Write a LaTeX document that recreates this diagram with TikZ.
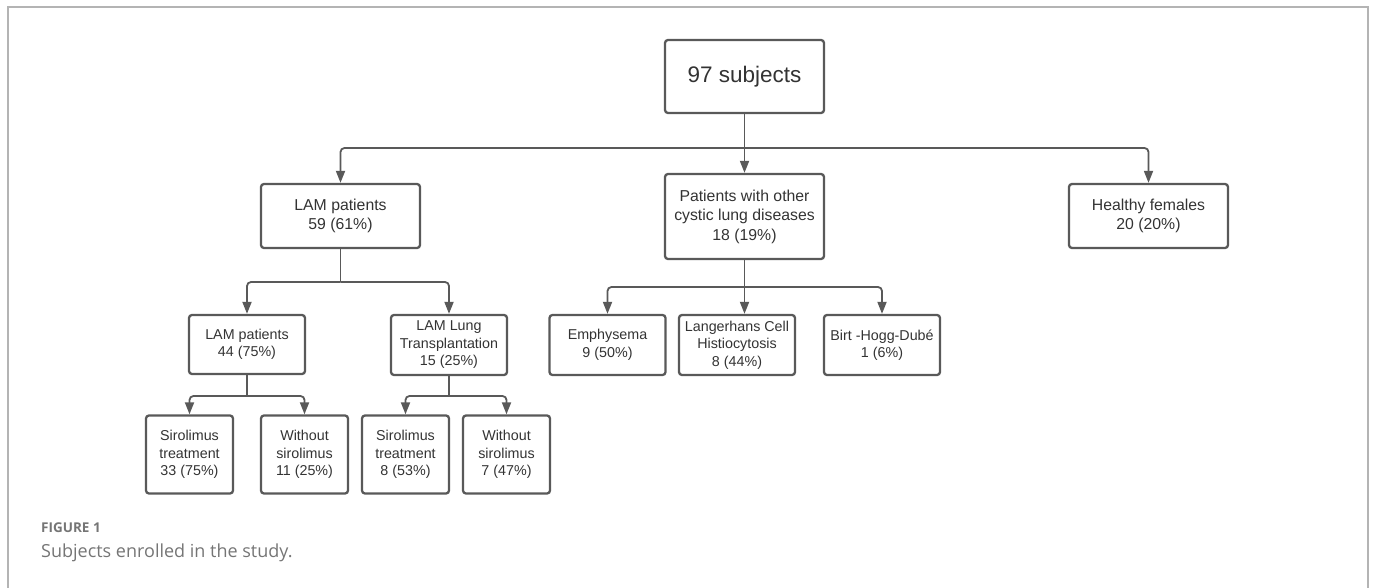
\documentclass[tikz,border=0pt]{standalone}
\usepackage{fontspec}
\setmainfont{Liberation Sans}
\newfontfamily\capfont{Open Sans}
\usetikzlibrary{arrows.meta}
\definecolor{ln}{HTML}{595959}
\definecolor{tx}{HTML}{333333}
\definecolor{fr}{HTML}{B4B4B4}
\definecolor{capc}{HTML}{757575}
\begin{document}
\begin{tikzpicture}[x=1pt,y=-1pt,
  box/.style={draw=ln, line width=2.3pt, rounded corners=3pt, inner sep=0pt, align=center, text=tx},
  topbox/.style={box, minimum width=159pt, minimum height=73pt, font=\fontsize{22.5}{27}\selectfont},
  lvone/.style={box, minimum width=159pt, font=\fontsize{15.8}{19.5}\selectfont},
  lvtwo/.style={box, minimum width=116pt, minimum height=60pt, font=\fontsize{14.3}{17.5}\selectfont},
  lvthree/.style={box, minimum width=87pt, minimum height=78pt, font=\fontsize{14.3}{17.7}\selectfont},
  conn/.style={draw=ln, line width=1.8pt, rounded corners=4pt},
  arr/.style={conn, -{Triangle[length=12pt,width=9pt]}}
]
\useasboundingbox (0,0) rectangle (1375,588);
\draw[fr, line width=1.5pt] (8,588) -- (8,7) -- (1368,7) -- (1368,588);

\node[topbox] (top) at (744.5,76.5) {97 subjects};
\node[lvone, minimum height=64pt] (lam) at (340.5,216) {LAM patients\\59 (61\%)};
\node[lvone, minimum height=85pt] (other) at (744.5,216.5) {Patients with other\\cystic lung diseases\\18 (19\%)};
\node[lvone, minimum height=64pt] (healthy) at (1148.5,216) {Healthy females\\20 (20\%)};

\node[lvtwo, minimum height=59pt] (lamf) at (247,344.5) {LAM patients\\44 (75\%)};
\node[lvtwo] (lamlt) at (449,345) {LAM Lung\\Transplantation\\15 (25\%)};
\node[lvtwo] (emph) at (607.5,345) {Emphysema\\9 (50\%)};
\node[lvtwo] (lch) at (737,345) {Langerhans Cell\\Histiocytosis\\8 (44\%)};
\node[lvtwo] (birt) at (882,345) {Birt -Hogg-Dubé\\1 (6\%)};

\node[lvthree] (sa) at (189.5,454.5) {Sirolimus\\treatment\\33 (75\%)};
\node[lvthree] (wa) at (304.5,454.5) {Without\\sirolimus\\11 (25\%)};
\node[lvthree] (sb) at (405.5,454.5) {Sirolimus\\treatment\\8 (53\%)};
\node[lvthree] (wb) at (506.5,454.5) {Without\\sirolimus\\7 (47\%)};

\coordinate (ba) at (top.south |- 0,148);
\coordinate (bb) at (lam.south |- 0,282);
\coordinate (bc) at (other.south |- 0,287);
\coordinate (bd) at (lamf.south |- 0,396);
\coordinate (be) at (lamlt.south |- 0,396);

\draw[conn] (top.south) -- (ba);
\draw[arr] (ba) -| (lam.north);
\draw[arr] (ba) -- (other.north);
\draw[arr] (ba) -| (healthy.north);

\draw[conn] (lam.south) -- (bb);
\draw[arr] (bb) -| (lamf.north);
\draw[arr] (bb) -| (lamlt.north);

\draw[conn] (other.south) -- (bc);
\draw[arr] (bc) -| (emph.north);
\draw[arr] (bc) -- (bc |- lch.north);
\draw[arr] (bc) -| (birt.north);

\draw[conn] (lamf.south) -- (bd);
\draw[arr] (bd) -| (sa.north);
\draw[arr] (bd) -| (wa.north);

\draw[conn] (lamlt.south) -- (be);
\draw[arr] (be) -| (sb.north);
\draw[arr] (be) -| (wb.north);

\node[anchor=base west, inner sep=0pt, text=capc, font=\capfont\bfseries\fontsize{13.5}{16}\selectfont] (fig) at (41,532) {FIGURE 1};
\node[anchor=base west, inner sep=0pt, text=capc, font=\capfont\fontsize{18}{22}\selectfont] (cap) at (41,557) {Subjects enrolled in the study.};
\end{tikzpicture}
\end{document}
